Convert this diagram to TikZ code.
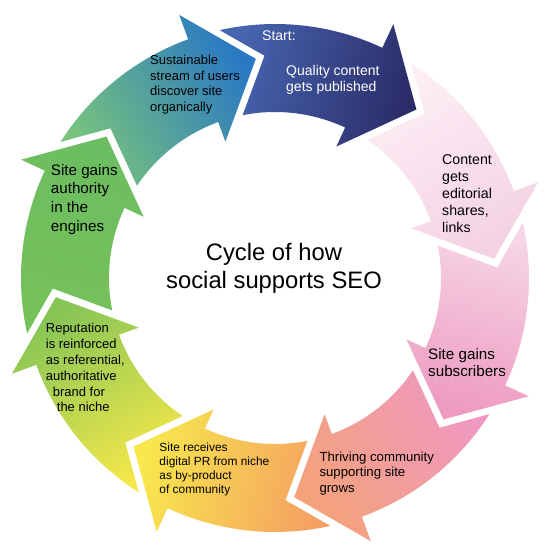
\documentclass[tikz,border=0pt]{standalone}
\usepackage{fontspec}
\setmainfont{Liberation Sans}
\newcommand{\fsz}[2]{\fontsize{#1}{#2}\selectfont}
% #1 tip angle, #2 shading options
\newcommand{\cycarrow}[2]{%
  \pgfmathsetmacro\cyP{#1+45}%
  \pgfmathsetmacro\cyO{\cyP+7.6}%
  \pgfmathsetmacro\cyI{\cyP+6.25}%
  \pgfmathsetmacro\cyN{\cyP-2.3}%
  \pgfmathsetmacro\cyB{#1+15}%
  \pgfmathsetmacro\cyS{#1-154}%
  \shade[#2, shading angle=\cyS] (\cyO:254) arc[start angle=\cyO, end angle=\cyB, radius=254]
    -- (\cyB:280) -- (#1:220) -- (\cyB:145) -- (\cyB:166)
    arc[start angle=\cyB, end angle=\cyI, radius=166] -- (\cyN:222.5) -- cycle;
}
\definecolor{blueT}{HTML}{4766B2}
\definecolor{blueH}{HTML}{2B2C68}
\definecolor{lpinkT}{HTML}{FDEEF5}
\definecolor{lpinkH}{HTML}{F4D2E3}
\definecolor{pinkT}{HTML}{F6D6E6}
\definecolor{pinkH}{HTML}{EE9AC1}
\definecolor{salT}{HTML}{EF98C2}
\definecolor{salH}{HTML}{F4A27A}
\definecolor{yelT}{HTML}{F5A062}
\definecolor{yelH}{HTML}{F8E84C}
\definecolor{ygT}{HTML}{F6E84A}
\definecolor{ygH}{HTML}{86C556}
\definecolor{grT}{HTML}{76C158}
\definecolor{grH}{HTML}{6CBD62}
\definecolor{tealT}{HTML}{78C47C}
\definecolor{tealM}{HTML}{36B7A3}
\definecolor{tealH}{HTML}{2A78C4}
\tikzset{
  lbl/.style={inner sep=0pt, anchor=north west, align=left, text=black},
}
\begin{document}
\begin{tikzpicture}[x=1pt,y=1pt]
\fill[white] (-275,-273) rectangle (274,278);
\useasboundingbox (-275,-273) rectangle (274,278);
\cycarrow{50}{top color=blueH, bottom color=blueT}
\cycarrow{5}{top color=lpinkH, bottom color=lpinkT}
\cycarrow{-40}{top color=pinkH, bottom color=pinkT}
\cycarrow{-85}{top color=salH, bottom color=salT}
\cycarrow{-130}{top color=yelH, bottom color=yelT}
\cycarrow{-175}{top color=ygH, bottom color=ygT}
\cycarrow{-220}{top color=grH, bottom color=grT}
\cycarrow{-265}{top color=tealH, middle color=tealM, bottom color=tealT}

\node[lbl, text=white, font=\fsz{14}{16.5}] (start) at (-13,247.3) {Start:};
\node[lbl, text=white, font=\fsz{14}{16.5}] (quality) at (11,213) {Quality content\\gets published};
\node[lbl, font=\fsz{14.2}{17}] (content) at (167,124) {Content\\gets\\editorial\\shares,\\links};
\node[lbl, font=\fsz{15.2}{17.3}] (subs) at (153,-70.3) {Site gains\\subscribers};
\node[lbl, font=\fsz{13.2}{15.5}] (thriving) at (44.3,-173.7) {Thriving community\\supporting site\\grows};
\node[lbl, font=\fsz{11.9}{14.2}] (pr) at (-115.7,-164.3) {Site receives\\digital PR from niche\\as by-product\\of community};
\node[lbl, font=\fsz{13}{15.8}] (rep) at (-229.3,-45.3) {Reputation\\is reinforced\\as referential,\\authoritative\\\hspace*{7pt}brand for\\\hspace*{11pt}the niche};
\node[lbl, font=\fsz{15.2}{18.6}] (authority) at (-224.3,114) {Site gains\\authority\\in the\\engines};
\node[lbl, font=\fsz{13}{15.6}] (stream) at (-125,223) {Sustainable\\stream of users\\discover site\\organically};
\node[inner sep=0pt, anchor=north, align=center, font=\fsz{23.8}{28.6}] (title) at (-1,35.3) {Cycle of how\\social supports SEO};
\end{tikzpicture}
\end{document}
